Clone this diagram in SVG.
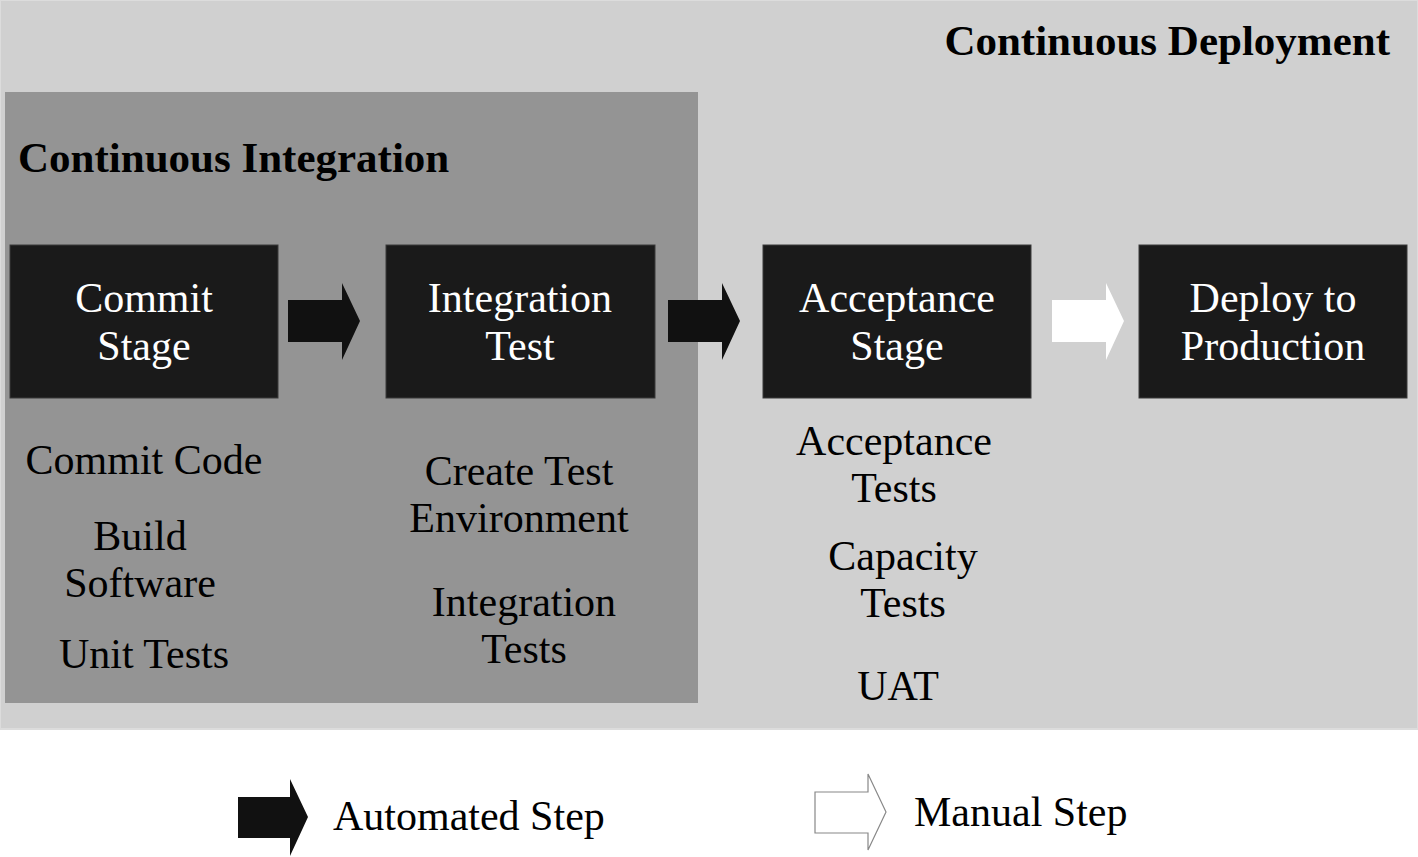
<svg xmlns="http://www.w3.org/2000/svg" width="1418" height="857" viewBox="0 0 1418 857">
<style>
.t{font-family:"Liberation Serif","Times New Roman",serif;font-size:42px;text-anchor:middle}
.w{fill:#fff}
.k{fill:#000}
.b{font-family:"Liberation Serif","Times New Roman",serif;font-size:43px;font-weight:bold;fill:#000}
.box{fill:#1a1a1a;stroke:#3a3a3a;stroke-width:1}
.auto{fill:#111}
.man{fill:#fff}
</style>
<rect x="0" y="0" width="1418" height="857" fill="#fff"/>
<g id="cd">
<rect x="0" y="0" width="1418" height="729" fill="#d0d0d0" stroke="#dcdcdc" stroke-width="2"/>
<text class="b" x="1390" y="55" text-anchor="end">Continuous Deployment</text>
</g>
<g id="ci">
<rect x="5" y="92" width="693" height="611" fill="#949494"/>
<text class="b" x="18" y="172">Continuous Integration</text>
</g>
<g id="commit">
<rect class="box" x="10" y="245" width="268" height="153"/>
<text class="t w" x="144" y="312">Commit</text>
<text class="t w" x="144" y="360">Stage</text>
<text class="t k" x="144" y="474">Commit Code</text>
<text class="t k" x="140" y="550">Build</text>
<text class="t k" x="140" y="597">Software</text>
<text class="t k" x="144" y="668">Unit Tests</text>
</g>
<g id="integration">
<rect class="box" x="386" y="245" width="269" height="153"/>
<text class="t w" x="520" y="312">Integration</text>
<text class="t w" x="520" y="360">Test</text>
<text class="t k" x="519" y="485">Create Test</text>
<text class="t k" x="519" y="532">Environment</text>
<text class="t k" x="524" y="616">Integration</text>
<text class="t k" x="524" y="663">Tests</text>
</g>
<g id="acceptance">
<rect class="box" x="763" y="245" width="268" height="153"/>
<text class="t w" x="897" y="312">Acceptance</text>
<text class="t w" x="897" y="360">Stage</text>
<text class="t k" x="894" y="455">Acceptance</text>
<text class="t k" x="894" y="502">Tests</text>
<text class="t k" x="903" y="570">Capacity</text>
<text class="t k" x="903" y="617">Tests</text>
<text class="t k" x="898" y="700">UAT</text>
</g>
<g id="deploy">
<rect class="box" x="1139" y="245" width="268" height="153"/>
<text class="t w" x="1273" y="312">Deploy to</text>
<text class="t w" x="1273" y="360">Production</text>
</g>
<g id="connectors">
<polygon class="auto" points="288,300 342,300 342,283 360,321 342,360 342,342 288,342"/>
<polygon class="auto" points="668,300 722,300 722,283 740,321 722,360 722,342 668,342"/>
<polygon class="man" points="1052,300 1106,300 1106,283 1124,321 1106,360 1106,342 1052,342"/>
</g>
<g id="legend">
<polygon class="auto" points="238,797 290,797 290,779 308,817 290,856 290,838 238,838"/>
<text class="t k" x="333" y="830" style="text-anchor:start">Automated Step</text>
<polygon points="815,792 868,792 868,774 886,812 868,850 868,833 815,833" fill="#fff" stroke="#888" stroke-width="1.2"/>
<text class="t k" x="914" y="826" style="text-anchor:start">Manual Step</text>
</g>
</svg>
